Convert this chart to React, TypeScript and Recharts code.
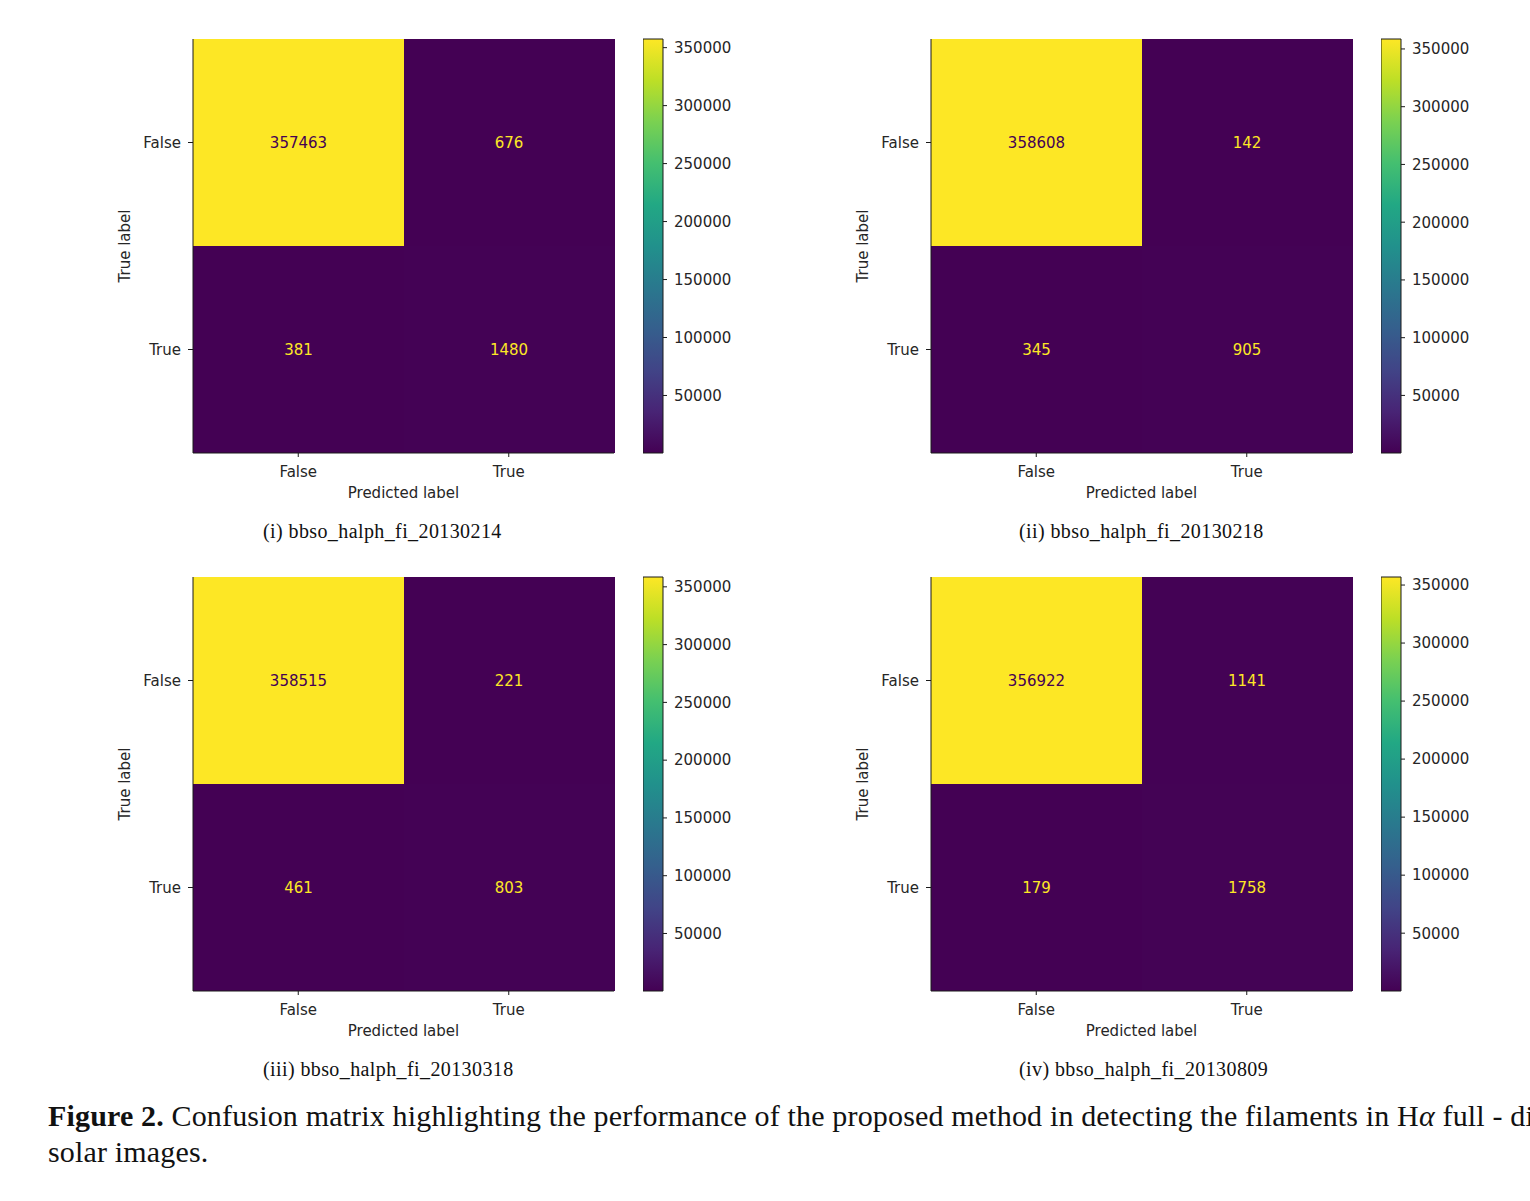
import React from "react";
import { Bar, BarChart, Cell, LabelList, XAxis, YAxis } from "recharts";

const PRED_LABELS = ["False", "True"];
const TRUE_LABELS = ["False", "True"];
const CBAR_TICKS = [50000, 100000, 150000, 200000, 250000, 300000, 350000];

// rows = true label, columns = predicted label
const CM_20130214 = [
  [357463, 676],
  [381, 1480],
];
const CM_20130218 = [
  [358608, 142],
  [345, 905],
];
const CM_20130318 = [
  [358515, 221],
  [461, 803],
];
const CM_20130809 = [
  [356922, 1141],
  [179, 1758],
];
const CAPTIONS = [
  "(i) bbso_halph_fi_20130214",
  "(ii) bbso_halph_fi_20130218",
  "(iii) bbso_halph_fi_20130318",
  "(iv) bbso_halph_fi_20130809",
];

const VIRIDIS = [
  "#440154", "#482475", "#414487", "#355f8d", "#2a788e", "#21918c",
  "#22a884", "#44bf70", "#7ad151", "#bddf26", "#fde725",
];

const FONT = "'DejaVu Sans', sans-serif";
const SERIF = "'Liberation Serif', 'Times New Roman', serif";
const INK = "#262626";
const SPINE = "#1a1a1a";

const rgb = (h: string) => [1, 3, 5].map((i) => parseInt(h.slice(i, i + 2), 16));

function viridis(t: number) {
  const s = Math.max(0, Math.min(1, t)) * (VIRIDIS.length - 1);
  const i = Math.min(Math.floor(s), VIRIDIS.length - 2);
  const f = s - i;
  const a = rgb(VIRIDIS[i]);
  const b = rgb(VIRIDIS[i + 1]);
  const c = a.map((v, k) => Math.round(v + (b[k] - v) * f));
  return `rgb(${c[0]},${c[1]},${c[2]})`;
}

type PanelProps = {
  id: string;
  cm: number[][];
  left: number;
  top: number;
  caption: string;
  captionLeft: number;
};

function Panel({ id, cm, left, top, caption, captionLeft }: PanelProps) {
  const flat = cm.flat();
  const lo = Math.min(...flat);
  const hi = Math.max(...flat);
  const norm = (v: number) => (v - lo) / (hi - lo);

  const rows = PRED_LABELS.map((p, j) => ({
    pred: p,
    r0: 1,
    r1: 1,
    v0: cm[0][j],
    v1: cm[1][j],
  }));

  const countLabel = (props: any) => {
    const { x, y, width, height, value } = props;
    const v = Number(value);
    return (
      <text
        x={x + width / 2}
        y={y + height / 2}
        textAnchor="middle"
        dominantBaseline="central"
        fontSize={15}
        fontFamily={FONT}
        fill={norm(v) >= 0.5 ? VIRIDIS[0] : VIRIDIS[VIRIDIS.length - 1]}
      >
        {v}
      </text>
    );
  };

  const tickStyle = { fill: INK, fontSize: 15, fontFamily: FONT };

  return (
    <>
      <div style={{ position: "absolute", left, top }}>
        <BarChart
          width={520}
          height={488}
          data={rows}
          margin={{ top: 19, right: 6, left: 0, bottom: 5 }}
          barCategoryGap={0}
          barGap={0}
        >
          <XAxis
            dataKey="pred"
            height={50}
            tick={tickStyle}
            tickSize={4}
            tickMargin={9}
            tickLine={{ stroke: SPINE }}
            axisLine={{ stroke: SPINE }}
            label={{
              value: "Predicted label",
              position: "insideBottom",
              offset: 5,
              fill: INK,
              fontSize: 15,
              style: { fontFamily: FONT },
            }}
          />
          <XAxis
            xAxisId="top"
            orientation="top"
            dataKey="pred"
            height={0}
            tick={false}
            tickLine={false}
            axisLine={{ stroke: SPINE }}
          />
          <YAxis
            type="number"
            domain={[0, 2]}
            reversed
            ticks={[0.5, 1.5]}
            interval={0}
            tickFormatter={(v: number) => TRUE_LABELS[Math.floor(v)]}
            width={93}
            tick={tickStyle}
            tickSize={5}
            tickMargin={7}
            tickLine={{ stroke: SPINE }}
            axisLine={{ stroke: SPINE }}
            label={{
              value: "True label",
              angle: -90,
              position: "insideLeft",
              offset: 25,
              fill: INK,
              fontSize: 15,
              style: { textAnchor: "middle", fontFamily: FONT },
            }}
          />
          <YAxis
            yAxisId="right"
            orientation="right"
            type="number"
            domain={[0, 2]}
            width={0}
            tick={false}
            tickLine={false}
            axisLine={{ stroke: SPINE }}
          />
          <Bar dataKey="r0" stackId="cm" shapeRendering="crispEdges" isAnimationActive={false}>
            {rows.map((r, i) => (
              <Cell key={i} fill={viridis(norm(r.v0))} />
            ))}
            <LabelList dataKey="v0" content={countLabel} />
          </Bar>
          <Bar dataKey="r1" stackId="cm" shapeRendering="crispEdges" isAnimationActive={false}>
            {rows.map((r, i) => (
              <Cell key={i} fill={viridis(norm(r.v1))} />
            ))}
            <LabelList dataKey="v1" content={countLabel} />
          </Bar>
        </BarChart>
      </div>

      <div style={{ position: "absolute", left: left + 543, top }}>
        <BarChart
          width={110}
          height={443}
          data={[{ name: "cbar", range: [lo, hi] }]}
          margin={{ top: 19, right: 0, left: 0, bottom: 10 }}
          barCategoryGap={0}
        >
          <defs>
            <linearGradient id={`viridis-${id}`} x1="0" y1="1" x2="0" y2="0">
              {VIRIDIS.map((c, i) => (
                <stop key={i} offset={i / (VIRIDIS.length - 1)} stopColor={c} />
              ))}
            </linearGradient>
          </defs>
          <XAxis dataKey="name" hide />
          <YAxis
            orientation="right"
            type="number"
            domain={[lo, hi]}
            ticks={CBAR_TICKS}
            interval={0}
            width={90}
            tick={tickStyle}
            tickSize={4}
            tickMargin={7}
            tickLine={{ stroke: SPINE }}
            axisLine={false}
          />
          <Bar
            dataKey="range"
            fill={`url(#viridis-${id})`}
            stroke={SPINE}
            strokeWidth={1}
            isAnimationActive={false}
          />
        </BarChart>
      </div>

      <div
        style={{
          position: "absolute",
          left: captionLeft,
          top: top + 499,
          fontFamily: SERIF,
          fontSize: 20,
          lineHeight: "24px",
          letterSpacing: 0.4,
          color: "#111",
          whiteSpace: "nowrap",
        }}
      >
        {caption}
      </div>
    </>
  );
}

export default function App() {
  return (
    <div
      style={{
        position: "absolute",
        left: 0,
        top: 0,
        width: 1530,
        height: 1201,
        overflow: "hidden",
        background: "#fff",
        fontFamily: FONT,
      }}
    >
      <Panel id="a" cm={CM_20130214} left={100} top={20} caption={CAPTIONS[0]} captionLeft={263} />
      <Panel id="b" cm={CM_20130218} left={838} top={20} caption={CAPTIONS[1]} captionLeft={1019} />
      <Panel id="c" cm={CM_20130318} left={100} top={558} caption={CAPTIONS[2]} captionLeft={263} />
      <Panel id="d" cm={CM_20130809} left={838} top={558} caption={CAPTIONS[3]} captionLeft={1019} />

      <div
        style={{
          position: "absolute",
          left: 48,
          top: 1098,
          fontFamily: SERIF,
          fontSize: 30,
          lineHeight: "36px",
          letterSpacing: 0.16,
          color: "#111",
          whiteSpace: "nowrap",
        }}
      >
        <div>
          <b>Figure 2.</b> Confusion matrix highlighting the performance of the proposed method in
          detecting the filaments in H<i>α</i> full - disk
        </div>
        <div>solar images.</div>
      </div>
    </div>
  );
}
